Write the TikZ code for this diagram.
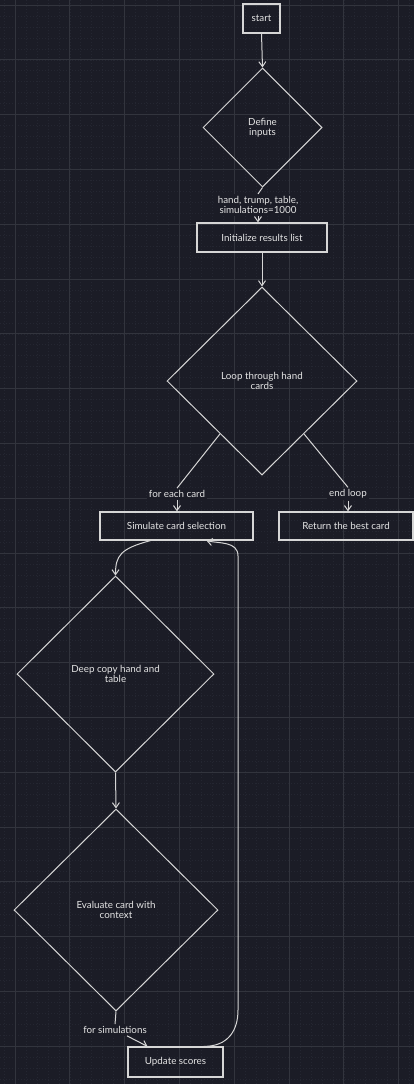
\documentclass[tikz,border=0pt]{standalone}
\usepackage{fontspec}
\setmainfont{Lato}
\usetikzlibrary{shapes.geometric,arrows.meta,calc}
\definecolor{bgc}{HTML}{1B1C26}
\definecolor{gridmajc}{HTML}{32343D}
\definecolor{gridminc}{HTML}{242631}
\definecolor{strokec}{HTML}{D6D6D6}
\definecolor{txtc}{HTML}{E4E4E4}
\begin{document}
\begin{tikzpicture}[x=1pt,y=-1pt,
  every node/.style={text=txtc, font=\fontsize{9.8}{10.4}\selectfont},
  box/.style={draw=strokec, line width=1.2pt, rectangle, inner sep=0pt},
  dia/.style={draw=strokec, line width=1pt, diamond, aspect=1, inner sep=0pt, align=center},
  lbl/.style={fill=bgc, align=center, inner sep=2pt},
  con/.style={draw=strokec, line width=1pt},
  arr/.style={con, -{Straight Barb[length=5pt,width=7pt]}},
  gmaj/.style={draw=gridmajc, line width=0.8pt},
  gmin/.style={draw=gridminc, line width=0.6pt, dash pattern=on 1pt off 2pt}
]
\useasboundingbox (0,0) rectangle (414,1084);
\fill[bgc] (0,0) rectangle (414,1084);
\begin{scope}
\clip (0,0) rectangle (414,1084);
\foreach \i in {-1,...,38} \draw[gmin] ({15+10.96*\i},0) -- ({15+10.96*\i},1084);
\foreach \i in {0,...,99} \draw[gmin] (0,{5+10.96*\i}) -- (414,{5+10.96*\i});
\foreach \i in {0,...,7} \draw[gmaj] ({15+54.8*\i},0) -- ({15+54.8*\i},1084);
\foreach \i in {0,...,19} \draw[gmaj] (0,{5+54.8*\i}) -- (414,{5+54.8*\i});
\end{scope}

% nodes
\node[box, minimum width=37pt, minimum height=29pt] (start) at (261.5,18.5) {start};
\node[dia, minimum width=119pt, minimum height=119pt] (define) at (262.5,127.5) {Define\\inputs};
\node[lbl] (lin) at (258,205) {hand, trump, table,\\simulations=1000};
\node[box, minimum width=130pt, minimum height=29pt] (init) at (262,237.5) {Initialize results list};
\node[dia, minimum width=190pt, minimum height=188pt] (loop) at (262,381) {Loop through hand\\cards};
\node[lbl] (lfor) at (177,494) {for each card};
\node[lbl] (lend) at (348,494) {end loop};
\node[box, minimum width=153pt, minimum height=28pt] (sim) at (176.5,526) {Simulate card selection};
\node[box, minimum width=134pt, minimum height=28pt] (ret) at (346,526) {Return the best card};
\node[dia, minimum width=197pt, minimum height=196pt] (deep) at (115.5,674) {Deep copy hand and\\table};
\node[dia, minimum width=204pt, minimum height=202pt] (eval) at (116,910) {Evaluate card with\\context};
\node[lbl] (lsims) at (115,1030) {for simulations};
\node[box, minimum width=95pt, minimum height=30pt] (upd) at (175.5,1062) {Update scores};

% connectors
\draw[arr] (start.south) -- (define.north);
\draw[con] (define.south) -- (lin.north);
\draw[arr] (lin.south) -- (lin.south |- init.north);
\draw[arr] (init.south) -- (loop.north);
\coordinate (lo1) at ($(loop.west)!0.56!(loop.south)$);
\coordinate (lo2) at ($(loop.east)!0.56!(loop.south)$);
\draw[con] (lo1) -- (lfor.north);
\draw[arr] (lfor.south) -- (lfor.south |- sim.north);
\draw[con] (lo2) -- (lend.north);
\draw[arr] (lend.south) -- (lend.south |- ret.north);
\draw[arr] ([xshift=-26pt]sim.south) .. controls +(-30,8) and +(0,-20) .. (deep.north);
\draw[arr] (deep.south) -- (eval.north);
\draw[con] (eval.south) -- (lsims.north);
\draw[arr] ([xshift=12pt]lsims.south) -- ([xshift=-28pt]upd.north);
\coordinate (rb) at (238,1010);
\coordinate (rt) at (238,556);
\draw[arr] ([xshift=-20pt]upd.north east) .. controls +(25,0) and +(0,20) .. (rb) -- (rt) .. controls +(0,-15) and +(12,3) .. ([xshift=30pt]sim.south);
\end{tikzpicture}
\end{document}
